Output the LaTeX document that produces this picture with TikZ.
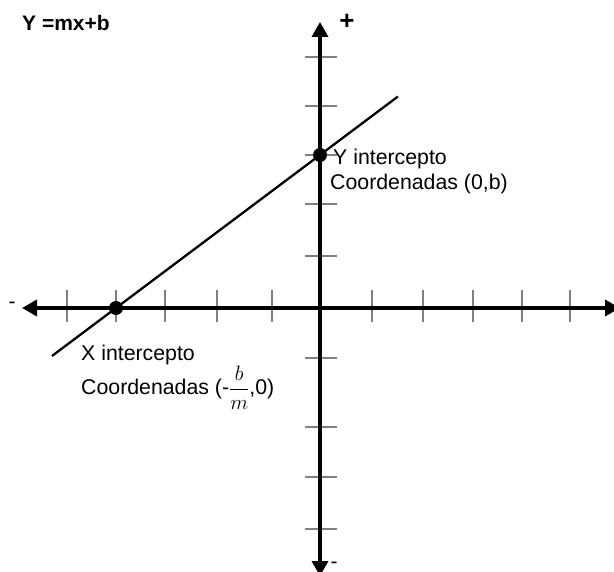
\documentclass[tikz,border=0pt]{standalone}
\usepackage{amsmath}
\usepackage{fontspec}
\setmainfont{Liberation Sans}
\usetikzlibrary{arrows.meta,calc}
\definecolor{TickGray}{HTML}{808080}
\tikzset{
  axisline/.style={{Triangle[length=15pt,width=16pt]}-{Triangle[length=15pt,width=16pt]},line width=3.5pt,draw=black},
  tickmark/.style={line width=2pt,draw=TickGray},
  graphline/.style={line width=2.3pt,draw=black},
  dot/.style={circle,minimum size=14pt,inner sep=0pt,draw=none,fill=black},
  lbl/.style={anchor=base west,inner sep=0pt,font=\fontsize{21.3}{25}\selectfont},
  sign/.style={anchor=center,inner sep=0pt,font=\fontsize{21}{25}\selectfont},
}

\begin{document}
\begin{tikzpicture}[x=1pt,y=-1pt]
    \useasboundingbox (0,0) rectangle (614,572);

    % ticks
    \foreach \tx in {67,116,165,217,272,372,423,473,522,570}
      \draw[tickmark] (\tx,290) -- (\tx,322);
    \foreach \ty in {57,106,155,204,256,358,427,477,529}
      \draw[tickmark] (305,\ty) -- (337,\ty);

    % axes
    \coordinate (xleft) at (22,308);
    \coordinate (xright) at (620,308);
    \coordinate (ytop) at (320,22);
    \coordinate (ybot) at (320,576);
    \draw[axisline] (xleft) -- (xright);
    \draw[axisline] (ybot) -- (ytop);

    % y = mx + b
    \coordinate (xi) at (116,308);
    \coordinate (yi) at (320,155);
    \draw[graphline] ($(xi)!-0.314!(yi)$) -- ($(yi)!-0.382!(xi)$);
    \node[dot] (xint) at (xi) {};
    \node[dot] (yint) at (yi) {};

    \node[lbl,font=\fontsize{21}{25}\selectfont\bfseries] (title) at (22,31) {Y =mx+b};
    \node[sign,font=\fontsize{26}{30}\selectfont\bfseries] (plus) at (347,22) {+};
    \node[sign] (minusx) at (12,305) {-};
    \node[sign] (minusy) at (334,565) {-};

    \node[lbl] (ylab) at (333,165) {Y intercepto};
    \node[lbl] (ycoord) at (330,190) {Coordenadas (0,b)};
    \node[lbl] (xlab) at (81,361) {X intercepto};
    \node[lbl] (xcoord) at (81,395) {Coordenadas (-$\dfrac{b}{m}$,0)};
  \end{tikzpicture}
\end{document}
